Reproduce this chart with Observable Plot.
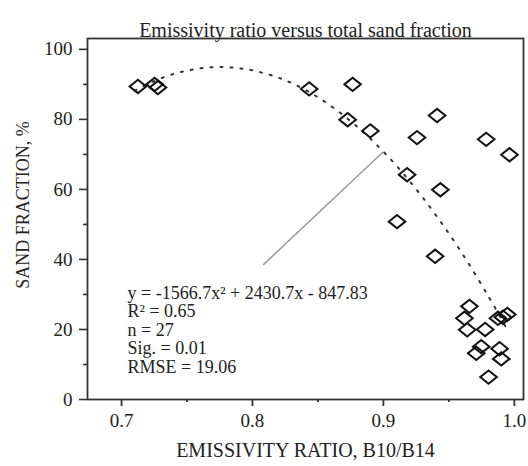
<!DOCTYPE html>
<html>
<head>
<meta charset="utf-8">
<script src="https://cdn.jsdelivr.net/npm/d3@7"></script>
<script src="https://cdn.jsdelivr.net/npm/@observablehq/plot@0.6"></script>
<style>
  html, body { margin: 0; padding: 0; background: #fff; }
</style>
</head>
<body>
<div id="chart"></div>
<script>
// Observed points: emissivity ratio (B10/B14) and sand fraction (%)
const ratio = [0.7125, 0.7253, 0.7278, 0.8433, 0.8765, 0.8727, 0.8900, 0.9410, 0.9257,
               0.9785, 0.9963, 0.9181, 0.9435, 0.9104, 0.9395, 0.9657, 0.9619, 0.9640,
               0.9777, 0.9875, 0.9913, 0.9946, 0.9747, 0.9709, 0.9887, 0.9900, 0.9803];
const sand  = [89.4, 90.0, 89.1, 88.7, 90.0, 79.9, 76.7, 81.1, 74.8,
               74.3, 69.9, 64.2, 59.9, 50.8, 40.9, 26.6, 23.2, 19.9,
               20.0, 23.2, 23.5, 24.3, 15.1, 13.2, 14.5, 11.6, 6.4];

// Dotted fitted curve
const curveX = [0.71, 0.72, 0.73, 0.74, 0.75, 0.76, 0.77, 0.78, 0.79, 0.80, 0.82, 0.84,
                0.86, 0.88, 0.90, 0.92, 0.94, 0.96, 0.98, 0.995];
const curveY = [88.2, 90.1, 91.7, 93.0, 93.9, 94.6, 94.9, 94.9, 94.6, 94.0, 91.9, 88.5,
                83.8, 77.9, 70.8, 62.4, 52.7, 41.8, 29.6, 19.7];

// Grey leader line from the equation to the curve
const leaderX = [0.8086, 0.8995];
const leaderY = [38.6, 70.6];

// Axis ticks
const xTicks = [0.7, 0.8, 0.9, 1.0];
const xMinor = [0.75, 0.85, 0.95];
const yTicks = [0, 20, 40, 60, 80, 100];
const yMinor = [10, 30, 50, 70, 90];

// Texts
const titleText = "Emissivity ratio versus total sand fraction";
const xTitle = "EMISSIVITY RATIO, B10/B14";
const yTitle = "SAND FRACTION, %";
const statLines = ["y = -1566.7x\u00B2 + 2430.7x - 847.83", "R\u00B2 = 0.65", "n = 27", "Sig. = 0.01", "RMSE = 19.06"];

const points = ratio.map((r, i) => ({ratio: r, sand: sand[i]}));
const curve = curveX.map((x, i) => ({x, y: curveY[i]}));
const leader = leaderX.map((x, i) => ({x, y: leaderY[i]}));

// Rhombus a little wider than tall
const rhombus = {
  draw(context, size) {
    const s = Math.sqrt(size / Math.PI);
    const w = s, h = s * 0.8;
    context.moveTo(0, -h);
    context.lineTo(w, 0);
    context.lineTo(0, h);
    context.lineTo(-w, 0);
    context.closePath();
  }
};

const ink = "#222";
const serif = "Liberation Serif";

const chart = Plot.plot({
  width: 528,
  height: 466,
  marginTop: 38,
  marginLeft: 87,
  marginRight: 5,
  marginBottom: 67,
  style: {fontFamily: serif, background: "#fff", color: ink},
  x: {domain: [0.674, 1.007], label: null},
  y: {domain: [0, 103.1], label: null},
  marks: [
    Plot.frame({stroke: "#333", strokeWidth: 1.8}),
    // tick marks
    Plot.axisX({ticks: xTicks, tickSize: 7, tickFormat: () => "", stroke: "#333", strokeWidth: 1.8, label: null}),
    Plot.axisX({ticks: xMinor, tickSize: 3, tickFormat: () => "", stroke: "#333", strokeWidth: 1.8, label: null}),
    Plot.axisY({ticks: yTicks, tickSize: 8, tickFormat: () => "", stroke: "#333", strokeWidth: 1.6, label: null}),
    Plot.axisY({ticks: yMinor, tickSize: 4, tickFormat: () => "", stroke: "#333", strokeWidth: 1.6, label: null}),
    // tick labels
    Plot.text(xTicks, {x: d => d, text: d => d3.format(".1f")(d), frameAnchor: "bottom",
                       textAnchor: "middle", lineAnchor: "top", dy: 14, fontSize: 19,
                       fontFamily: serif, fill: ink}),
    Plot.text(yTicks, {y: d => d, text: d => String(d), frameAnchor: "left",
                       textAnchor: "end", dx: -15, fontSize: 19, fontFamily: serif, fill: ink}),
    Plot.line(leader, {x: "x", y: "y", stroke: "#9a9a9a", strokeWidth: 1.5}),
    Plot.line(curve, {x: "x", y: "y", curve: "catmull-rom", stroke: "#333", strokeWidth: 2,
                      strokeDasharray: "2,8"}),
    Plot.dot(points, {x: "ratio", y: "sand", symbol: rhombus, r: 8.3, stroke: "#111",
                      strokeWidth: 2, fill: "none"}),
    Plot.text([statLines.join("\n")], {frameAnchor: "bottom-left", textAnchor: "start",
                      lineAnchor: "bottom", lineHeight: 1.03, fontSize: 18, fontFamily: serif, fill: ink,
                      dx: 40, dy: -26.5}),
    Plot.text([titleText], {frameAnchor: "top", textAnchor: "middle", fontSize: 20, fontFamily: serif,
                      fill: ink, dy: -15.4}),
    Plot.text([xTitle], {frameAnchor: "bottom", textAnchor: "middle", fontSize: 20, fontFamily: serif,
                      fill: ink, dy: 57.6}),
    Plot.text([yTitle], {frameAnchor: "left", textAnchor: "middle", rotate: -90, fontSize: 18,
                      fontFamily: serif, fill: ink, dx: -64.5, dy: -14})
  ]
});

document.getElementById("chart").appendChild(chart);
</script>
</body>
</html>
